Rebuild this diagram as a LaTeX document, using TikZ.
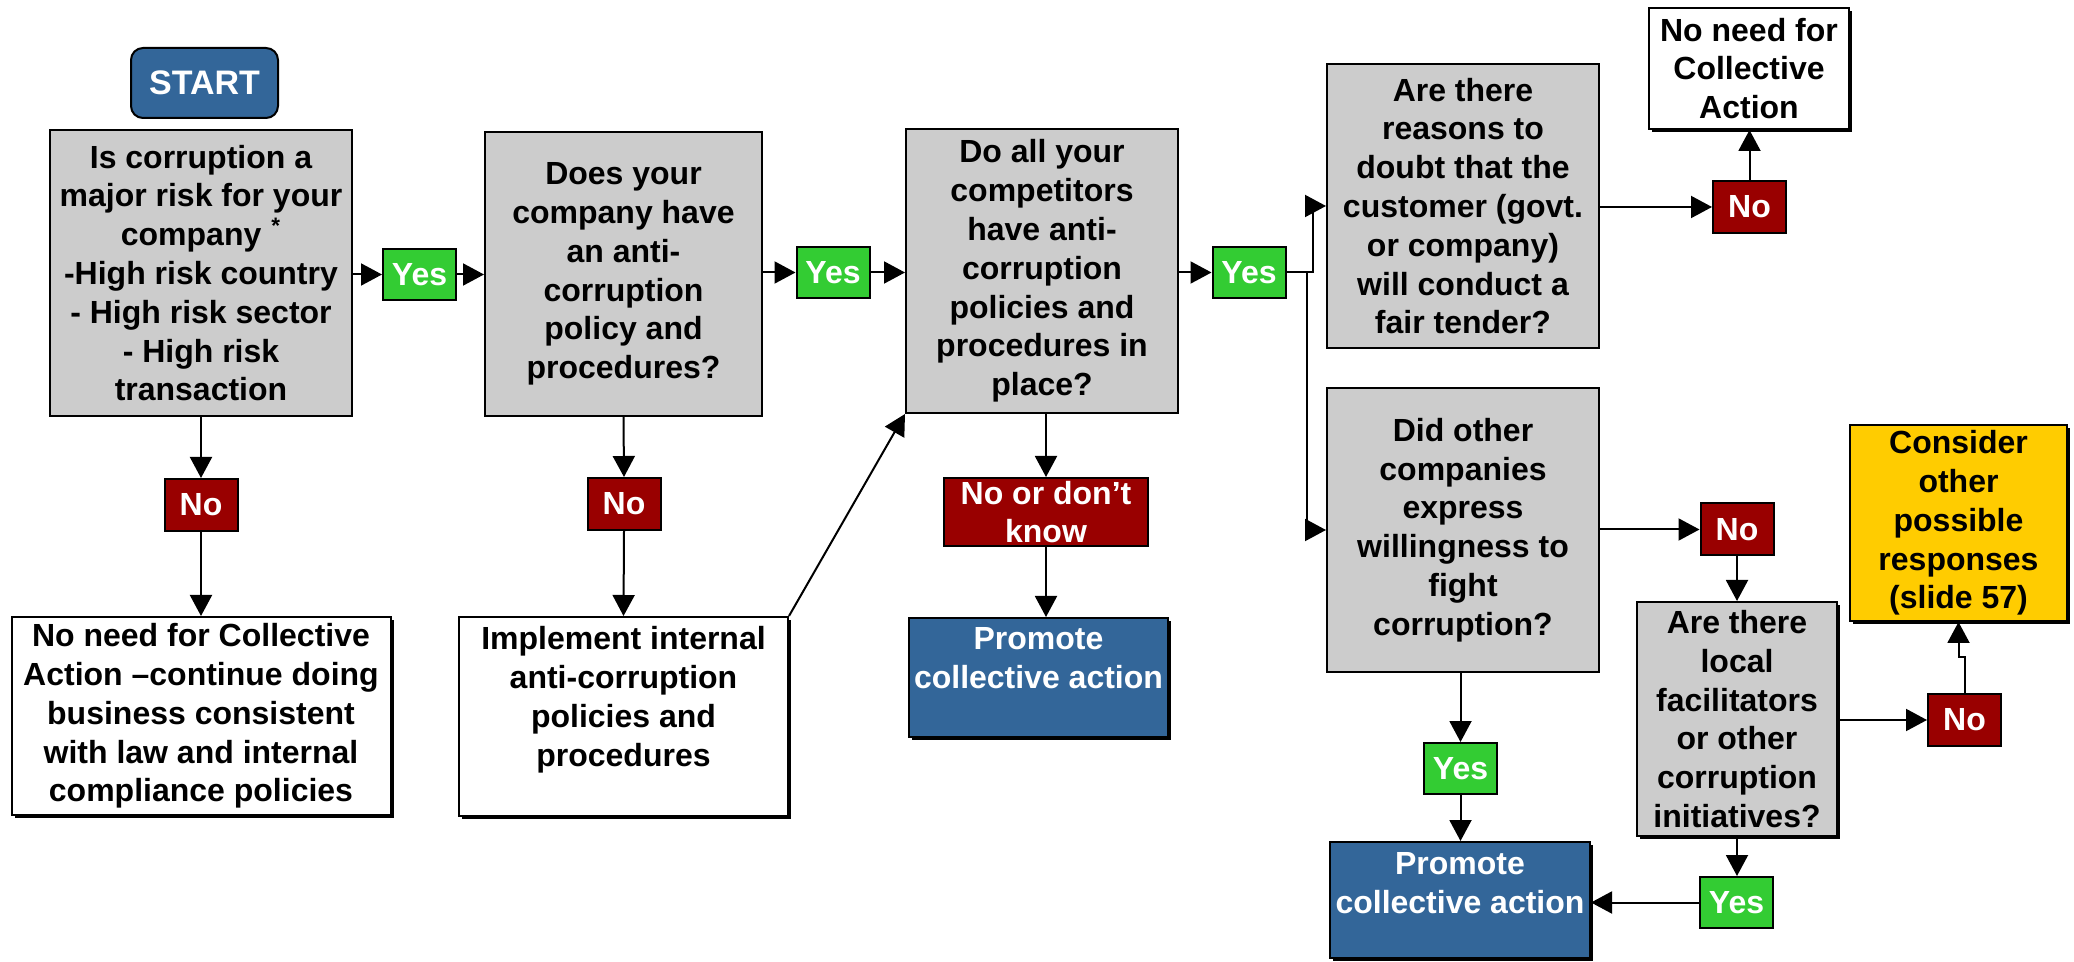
\documentclass[tikz,border=0pt]{standalone}
\usepackage{fontspec}
\setmainfont{Liberation Sans}
\usetikzlibrary{arrows.meta,shadows,calc}

\definecolor{qgray}{HTML}{CCCCCC}
\definecolor{yesgreen}{HTML}{33CC33}
\definecolor{nored}{HTML}{990000}
\definecolor{actblue}{HTML}{336699}
\definecolor{altyellow}{HTML}{FFCC00}

\begin{document}
\begin{tikzpicture}[x=0.5pt,y=-0.5pt,
  every node/.style={inner sep=0pt, align=center, line width=1pt},
  txt/.style={font=\bfseries\fontsize{16}{19.4}\selectfont},
  sz/.style 2 args={minimum width=#1*0.5pt, minimum height=#2*0.5pt},
  shad/.style={drop shadow={shadow xshift=1.5pt, shadow yshift=-1.5pt, opacity=1, fill=black}},
  qbox/.style={txt, draw=black, fill=qgray},
  wbox/.style={txt, draw=black, fill=white, shad},
  actbox/.style={txt, draw=black, fill=actblue, text=white, shad},
  yestag/.style={txt, draw=black, fill=yesgreen, text=white, sz={73}{51}},
  notag/.style={txt, draw=black, fill=nored, text=white, sz={73}{52}},
  arr/.style={-{Triangle[length=10.5pt,width=11pt]}, line width=1pt},
]
\useasboundingbox (0,0) rectangle (2074,962);

% ---- first column: risk question ----
\node[txt, draw=black, fill=actblue, text=white, rounded corners=6pt, sz={147}{70},
      font=\bfseries\fontsize{17}{20}\selectfont] (start) at (204.5,83) {START};
\node[qbox, sz={302}{286}] (q1) at (201,273)
  {Is corruption a\\major risk for your\\company\hspace{5pt}\textsuperscript{*}\\-High risk country\\- High risk sector\\- High risk\\transaction};
\node[notag] (n1) at (201,505) {No};
\node[wbox, sz={379}{198}] (ca1) at (201,716)
  {No need for Collective\\Action –continue doing\\business consistent\\with law and internal\\compliance policies};
\node[yestag] (y1) at (419.5,274.5) {Yes};

% ---- second column: own policy ----
\node[qbox, sz={277}{284}] (q2) at (623.5,274)
  {Does your\\company have\\an anti-\\corruption\\policy and\\procedures?};
\node[notag] (n2) at (624,504) {No};
\node[wbox, sz={329}{199}] (impl) at (623.5,716.5)
  {Implement internal\\anti-corruption\\policies and\\procedures\\[-5.3pt]\strut};
\node[yestag] (y2) at (833,272.5) {Yes};

% ---- third column: competitors ----
\node[qbox, sz={272}{284}] (q3) at (1042,271)
  {Do all your\\competitors\\have anti-\\corruption\\policies and\\procedures in\\place?};
\node[txt, draw=black, fill=nored, text=white, sz={204}{68}] (ndk) at (1046,512)
  {No or don’t\\know};
\node[actbox, sz={259}{119}] (pr1) at (1038.5,677.5)
  {Promote\\collective action\\[-5.5pt]\strut};
\node[yestag] (y3) at (1249,272.5) {Yes};

% ---- fourth column: customer and other companies ----
\node[qbox, sz={272}{284}] (q4) at (1463,206)
  {Are there\\reasons to\\doubt that the\\customer (govt.\\or company)\\will conduct a\\fair tender?};
\node[qbox, sz={272}{284}] (q5) at (1463,530)
  {Did other\\companies\\express\\willingness to\\fight\\corruption?};
\node[yestag] (y5) at (1460.5,768.5) {Yes};
\node[actbox, sz={260}{116}] (pr2) at (1460,900)
  {Promote\\collective action\\[-8pt]\strut};

% ---- right-hand side ----
\node[notag] (n4) at (1749.5,207) {No};
\node[wbox, sz={200}{121}] (ca2) at (1749,68.5)
  {No need for\\Collective\\Action};
\node[notag] (n5) at (1737,529.5) {No};
\node[qbox, shad, sz={200}{234}] (q6) at (1737,719)
  {Are there\\local\\facilitators\\or other\\corruption\\initiatives?};
\node[yestag] (y6) at (1736.5,902.5) {Yes};
\node[notag] (n6) at (1964.5,720) {No};
\node[txt, draw=black, fill=altyellow, shad, sz={217}{196}] (cons) at (1958.5,523)
  {Consider\\other\\possible\\responses\\(slide 57)};

% ---- connectors ----
\draw[arr] (q1.east |- y1) -- (y1.west);
\draw[arr] (y1.east) -- (y1.east -| q2.west);
\draw[arr] (q1.south) -- (n1.north);
\draw[arr] (n1.south) -- (ca1.north);

\draw[arr] (q2.east |- y2) -- (y2.west);
\draw[arr] (y2.east) -- (y2.east -| q3.west);
\draw[arr] (q2.south) -- (n2.north);
\draw[arr] (n2.south) -- (impl.north);
\draw[arr] (impl.north east) -- (q3.south west);

\draw[arr] (q3.east |- y3) -- (y3.west);
\draw[arr] (ndk.north |- q3.south) -- (ndk.north);
\draw[arr] (ndk.south) -- (ndk.south |- pr1.north);

\coordinate (up) at (1313,272.5);
\coordinate (down) at (1307,272.5);
\draw[arr] (y3.east) -- (up) |- (q4.west);
\draw[arr] (down) |- (q5.west);

\draw[arr] (q4.east |- n4) -- (n4.west);
\draw[arr] (n4.north) -- (n4.north |- ca2.south);

\draw[arr] (q5.east |- n5) -- (n5.west);
\draw[arr] (n5.south) -- (n5.south |- q6.north);
\draw[arr] (y5.north |- q5.south) -- (y5.north);
\draw[arr] (y5.south) -- (y5.south |- pr2.north);

\draw[arr] (q6.east |- n6) -- (n6.west);
\draw[arr] (n6.north) -- ++(0,-36) -| (cons.south);
\draw[arr] (q6.south) -- (q6.south |- y6.north);
\draw[arr] (y6.west) -- (y6.west -| pr2.east);
\end{tikzpicture}
\end{document}
